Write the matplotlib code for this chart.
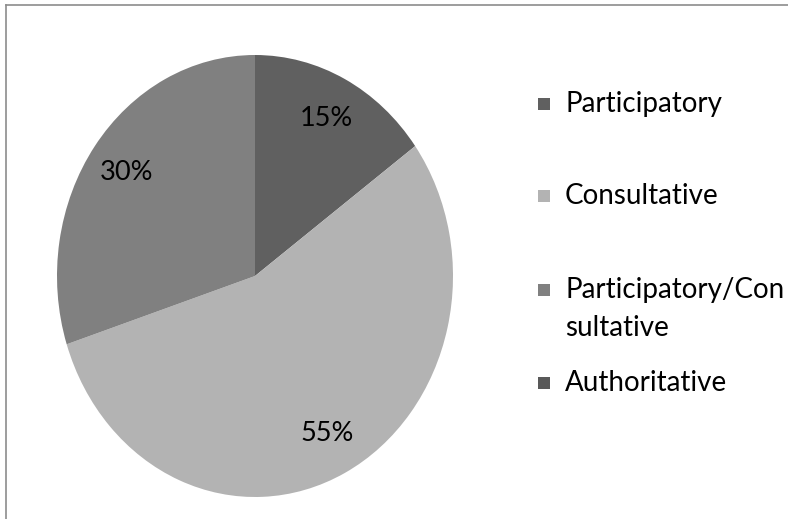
import matplotlib.pyplot as plt
from matplotlib.lines import Line2D
from matplotlib.patches import Rectangle

# leadership styles share
styles = ['Participatory', 'Consultative', 'Participatory/Consultative', 'Authoritative']
legend_text = ['Participatory', 'Consultative', 'Participatory/Con\nsultative', 'Authoritative']
share = [15, 55, 30, 0]
colors = ['#606060', '#b3b3b3', '#808080', '#595959']

W, H = 788, 519
fig = plt.figure(figsize=(W / 100, H / 100), dpi=100)
plt.rcParams['font.family'] = ['Lato', 'DejaVu Sans']

# pie is a bit taller than wide
ax = fig.add_axes([57 / W, (H - 497) / H, 396 / W, 442 / H])


def pct(v):
    return '' if v < 0.5 else '%d%%' % round(v)


wedges, texts, autotexts = ax.pie(share, colors=colors, startangle=90, counterclock=False,
                                  autopct=pct, pctdistance=0.8,
                                  textprops={'fontsize': 19.5, 'color': 'black'})
ax.set_aspect('auto')
ax.set_xlim(-1, 1)
ax.set_ylim(-1, 1)
ax.axis('off')

# legend on the right
rows = [104, 196, 290, 383]
for w, lab, y in zip(wedges, legend_text, rows):
    fig.add_artist(Rectangle((538 / W, 1 - (y + 6) / H), 12 / W, 12 / H,
                             transform=fig.transFigure, facecolor=w.get_facecolor(),
                             edgecolor='none'))
    for i, line in enumerate(lab.split('\n')):
        fig.text(565 / W, 1 - (y + 38 * i) / H, line, fontsize=20, va='center', ha='left')

# outer frame (top and left edges)
fc = '#8c8c8c'
fig.add_artist(Line2D([6 / W, 1], [1 - 5 / H, 1 - 5 / H], color=fc, lw=1.2,
                      transform=fig.transFigure))
fig.add_artist(Line2D([6 / W, 6 / W], [1 - 5 / H, 0], color=fc, lw=1.2,
                      transform=fig.transFigure))

fig.savefig('out.png', dpi=100)
